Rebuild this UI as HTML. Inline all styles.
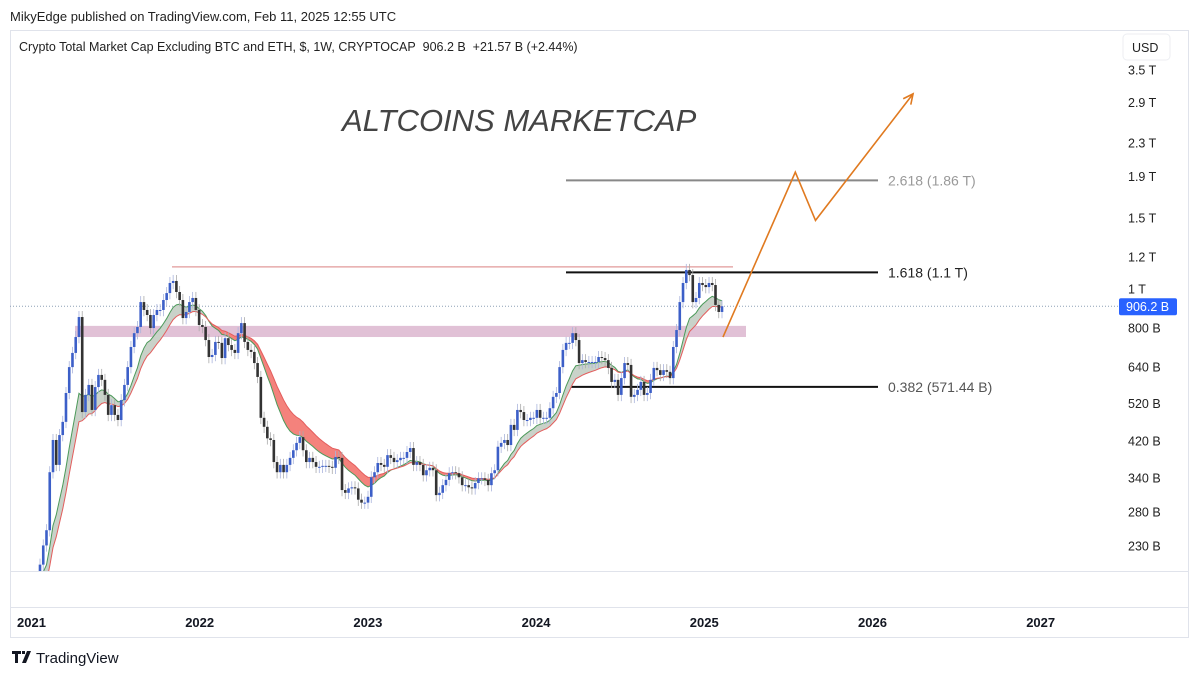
<!DOCTYPE html>
<html><head><meta charset="utf-8">
<style>
body{margin:0;background:#fff;width:1200px;height:675px;overflow:hidden;font-family:"Liberation Sans",sans-serif;}
svg{position:absolute;left:0;top:0}
</style></head>
<body>
<svg id="c" width="1200" height="675" viewBox="0 0 1200 675">
  <defs><clipPath id="plotclip"><rect x="10" y="31" width="1108" height="540"/></clipPath></defs>
  <text x="10" y="21" font-size="13" fill="#222">MikyEdge published on TradingView.com, Feb 11, 2025 12:55 UTC</text>
  <rect x="10.5" y="30.5" width="1178" height="607" fill="none" stroke="#e0e3eb"/>
  <line x1="10" y1="571.5" x2="1188" y2="571.5" stroke="#e0e3eb"/>
  <line x1="10" y1="607.5" x2="1188" y2="607.5" stroke="#e0e3eb"/>
  <text x="19" y="51" font-size="12.5" fill="#222">Crypto Total Market Cap Excluding BTC and ETH, $, 1W, CRYPTOCAP&#160;&#160;906.2 B&#160;&#160;+21.57 B (+2.44%)</text>
  <rect x="1123" y="34" width="47" height="26" rx="4" fill="#fff" stroke="#eceef2"/>
  <text x="1132" y="52" font-size="12.5" fill="#222">USD</text>
  <text x="342" y="131" font-size="31" font-style="italic" fill="#444">ALTCOINS MARKETCAP</text>
  <g id="yaxis"></g>
  <g id="xaxis"></g>
  <g id="annot"></g>
  <g id="ribbon" clip-path="url(#plotclip)"></g>
  <g id="candles" clip-path="url(#plotclip)"></g>
  <g id="over"></g>
  <g>
    <path d="M12 651h9v3h-3v9h-3v-9h-3z M22 651h3v3h-3z M27 651h4l-5 12h-4z" fill="#131722"/>
    <text x="36" y="663" font-size="15" fill="#131722">TradingView</text>
  </g>
</svg>
<script>
const closes2021=[207,231,252,351,422,366,434,468,552,640,694,760,852,495,546,578,501,571,612,595,546,487,515,487,473,530,578,640,718,777,805,928,887,862,800,862,887,887,939,977,1035,1047,983,939,847,877,928,950,887,814];
const closes2022=[805,747,678,686,739,735,674,755,726,706,694,777,823,739,706,698,655,605,479,455,426,422,372,351,366,351,366,381,398,415,429,398,372,381,372,362,362,364,364,362,360,383,381,317,312,320,322,320,300,295,295,305];
const closes2023=[341,351,370,366,362,387,381,372,376,381,381,394,403,366,372,366,345,355,360,355,308,312,326,336,349,351,349,341,326,326,322,320,330,339,339,336,326,349,355,406,415,422,410,460,447,501,495,473,473,479,479,501];
const closes2024=[479,479,479,506,540,552,640,706,735,735,777,747,655,666,659,659,659,659,678,674,666,637,588,595,546,601,655,648,540,546,562,588,546,552,595,637,629,612,629,623,601,718,791,928,1035,1115,1083,928,950,1035,1023,1011];
const closes2025=[1035,1023,913,877,906.2];
const firstOpen=190;
const yTicks=[3500,2900,2300,1900,1500,1200,1000,800,640,520,420,340,280,230];
const yTickLabels=["3.5 T","2.9 T","2.3 T","1.9 T","1.5 T","1.2 T","1 T","800 B","640 B","520 B","420 B","340 B","280 B","230 B"];
const years=[2021,2022,2023,2024,2025,2026,2027];
const fibLevels=[1860,1100,571.44];
const fibLabels=["2.618 (1.86 T)","1.618 (1.1 T)","0.382 (571.44 B)"];
const lastPrice=906.2;
const athLevel=1135;
const zoneTop=810, zoneBottom=760;
const projection=[[2025.12,760],[2025.55,1950],[2025.67,1480],[2026.25,3050]];

const NS="http://www.w3.org/2000/svg";
function el(tag,attrs,parent){const e=document.createElementNS(NS,tag);for(const k in attrs)e.setAttribute(k,attrs[k]);parent.appendChild(e);return e;}
function y(v){return 289-175*Math.log(v/1000);}
function xYear(t){return 30+(t-2021)*168.2;}
const closes=[].concat(closes2021,closes2022,closes2023,closes2024,closes2025);
const x0=40, step=(722-40)/(closes.length-1);
function xi(i){return x0+i*step;}

const ya=document.getElementById('yaxis');
yTicks.forEach((v,i)=>{const t=el('text',{x:1128,y:y(v)+4.5,'font-size':12.5,fill:'#222'},ya);t.textContent=yTickLabels[i];

});
const xa=document.getElementById('xaxis');
years.forEach(yr=>{const t=el('text',{x:xYear(yr)-13,y:627,'font-size':13,'font-weight':'bold',fill:'#131722'},xa);t.textContent=yr;

});

const an=document.getElementById('annot');
const zone=el('rect',{x:75,y:y(zoneTop),width:671,height:y(zoneBottom)-y(zoneTop),fill:'#dcb6cf',opacity:0.85},an);


const ath=el('line',{x1:172,x2:733,y1:y(athLevel),y2:y(athLevel),stroke:'#e29a9a','stroke-width':1.3},an);


fibLevels.forEach((v,i)=>{const c=i==0?'#888':'#111';
const l=el('line',{x1:566,x2:878,y1:y(v),y2:y(v),stroke:c,'stroke-width':2},an);


const t=el('text',{x:888,y:y(v)+5,'font-size':14,fill:i==0?'#999':(i==1?'#222':'#555')},an);t.textContent=fibLabels[i];

});
const dl=el('line',{x1:10,x2:1118,y1:y(lastPrice),y2:y(lastPrice),stroke:'#8da0b5','stroke-width':1,'stroke-dasharray':'1 2'},an);



// EMA ribbon
function ema(arr,n,seed){const k=2/(n+1);const out=[];let e=seed;arr.forEach(v=>{e=v*k+e*(1-k);out.push(e);});return out;}
const fast=ema(closes,12,firstOpen), slow=ema(closes,18,firstOpen*0.9);
const rb=document.getElementById('ribbon');
for(let i=1;i<closes.length;i++){
  const up=fast[i]>=slow[i];
  const p=el('polygon',{points:`${xi(i-1)},${y(fast[i-1])} ${xi(i)},${y(fast[i])} ${xi(i)},${y(slow[i])} ${xi(i-1)},${y(slow[i-1])}`,fill:up?'#c9d2c9':'#f4827c',stroke:up?'#c9d2c9':'#f4827c','stroke-width':0.5},rb);
  
  
}
const fl=el('polyline',{points:fast.map((v,i)=>xi(i)+','+y(v)).join(' '),fill:'none',stroke:'#4c9a5a','stroke-width':1},rb);


const sl=el('polyline',{points:slow.map((v,i)=>xi(i)+','+y(v)).join(' '),fill:'none',stroke:'#e35d5d','stroke-width':1},rb);



// candles
const cg=document.getElementById('candles');
closes.forEach((c,i)=>{
  const o=i==0?firstOpen:closes[i-1];
  const up=c>=o;const col=up?'#3c5fc8':'#333';
  const hi=Math.max(o,c)*1.035, lo=Math.min(o,c)*0.965;
  const w=el('line',{x1:xi(i),x2:xi(i),y1:y(hi),y2:y(lo),stroke:up?'#aab4dc':'#aaa','stroke-width':0.8},cg);
  
  
  const top=y(Math.max(o,c)), h=Math.max(1,y(Math.min(o,c))-top);
  const b=el('rect',{x:xi(i)-1.3,y:top,width:2.6,height:h,fill:col},cg);
  
  
});

// projection
const ov=document.getElementById('over');
const pp=projection.map(p=>[xYear(p[0]),y(p[1])]);
const pr=el('polyline',{points:pp.map(p=>p.join(',')).join(' '),fill:'none',stroke:'#e07a20','stroke-width':1.6},ov);


const a=pp[pp.length-1], b0=pp[pp.length-2];const ang=Math.atan2(a[1]-b0[1],a[0]-b0[0]);
const L=11;const p1=[a[0]-L*Math.cos(ang-0.45),a[1]-L*Math.sin(ang-0.45)],p2=[a[0]-L*Math.cos(ang+0.45),a[1]-L*Math.sin(ang+0.45)];
const ah=el('polyline',{points:`${p1} ${a} ${p2}`,fill:'none',stroke:'#e07a20','stroke-width':1.6},ov);


const pl=el('rect',{x:1119,y:y(lastPrice)-8,width:58,height:17,rx:2,fill:'#2962ff'},ov);


const pt=el('text',{x:1126,y:y(lastPrice)+5,'font-size':12.5,fill:'#fff'},ov);pt.textContent='906.2 B';


</script>
</body></html>
